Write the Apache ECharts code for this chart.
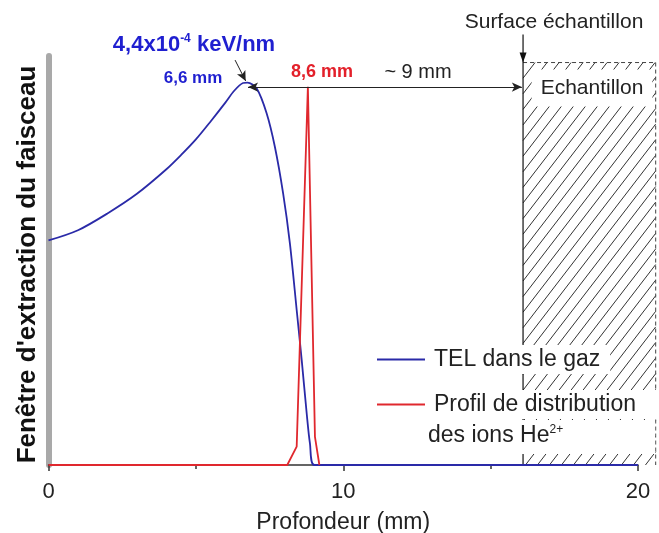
<!DOCTYPE html>
<html>
<head>
<meta charset="utf-8">
<script src="https://cdn.jsdelivr.net/npm/echarts@6/dist/echarts.min.js"></script>
<style>
  html, body { margin: 0; padding: 0; background: #fff; }
  #main { width: 659px; height: 533px; }
</style>
</head>
<body>
<div id="main"></div>
<script>
// TEL dans le gaz (profondeur en mm, valeur normalisee)
var depthTel = [0, 1, 2, 3, 4, 4.5, 5, 5.5, 6, 6.3, 6.6, 6.75, 7.06, 7.4, 7.68, 7.96, 8.19, 8.42, 8.59, 8.76, 8.87, 9.02, 20]
var valueTel = [54.9, 57.4, 61.5, 66.3, 72.3, 75.8, 79.6, 84.0, 88.6, 91.5, 93.4, 93.5, 92.1, 86.0, 77.8, 66.4, 54.2, 37.9, 25.7, 12.6, 5.3, 0, 0]
// profil de distribution des ions He2+
var depthIons = [0, 8.1, 8.42, 8.8, 9.04, 9.19]
var valueIons = [0, 0, 4.5, 92.5, 6.9, 0]
// echantillon : debut, fin, hauteur
var sampleStart = 16.1
var sampleEnd = 20.6
var sampleTop = 98.4
var xTicks = [0, 10, 20]

function zip (xs, ys) {
  return xs.map(function (x, i) { return [x, ys[i]] })
}

var chart = echarts.init(document.getElementById('main'))
var font = 'Liberation Sans, Arial, sans-serif'

function renderSample (params, api) {
  var tl = api.coord([api.value(0), api.value(2)])
  var br = api.coord([api.value(1), 0])
  var L = tl[0], T = tl[1], R = br[0], B = br[1]
  var children = []
  var step = 12, slope = 1.3
  var run = (B - T) / slope
  for (var c = L - run; c < R; c += step) {
    var x0 = c, y0 = B
    if (x0 < L) { y0 = B - (L - c) * slope; x0 = L }
    var x1 = c + run, y1 = T
    if (x1 > R) { y1 = B - (R - c) * slope; x1 = R }
    if (y0 > y1) {
      children.push({type: 'line', shape: {x1: x0, y1: y0, x2: x1, y2: y1}, style: {stroke: '#333', lineWidth: 1}})
    }
  }
  children.push({type: 'line', shape: {x1: L, y1: T, x2: R, y2: T}, style: {stroke: '#444', lineWidth: 1, lineDash: [4, 3]}})
  children.push({type: 'line', shape: {x1: R, y1: T, x2: R, y2: B}, style: {stroke: '#444', lineWidth: 1, lineDash: [4, 3]}})
  children.push({type: 'line', shape: {x1: L, y1: T - 28, x2: L, y2: B}, style: {stroke: '#111', lineWidth: 1.2}})
  children.push({type: 'polygon', shape: {points: [[L - 3.5, T - 10], [L + 3.5, T - 10], [L, T]]}, style: {fill: '#111'}})
  return {type: 'group', children: children}
}

var option = {
  animation: false,
  backgroundColor: '#fff',
  grid: {left: 48.5, right: 21, top: 56, bottom: 68, outerBoundsMode: 'none'},
  xAxis: {
    type: 'value',
    min: xTicks[0],
    max: xTicks[xTicks.length - 1],
    interval: 10,
    name: 'Profondeur (mm)',
    nameLocation: 'middle',
    nameGap: 46,
    nameTextStyle: {fontFamily: font, fontSize: 23, color: '#222'},
    axisLine: {lineStyle: {color: '#333', width: 1.5}},
    axisTick: {length: 6, lineStyle: {color: '#333', width: 1.5}},
    minorTick: {show: true, splitNumber: 2, length: 4, lineStyle: {color: '#333', width: 1.5}},
    axisLabel: {fontFamily: font, fontSize: 22, color: '#222', margin: 16},
    splitLine: {show: false}
  },
  yAxis: {
    type: 'value',
    min: 0,
    max: 100,
    name: "Fenêtre d'extraction du faisceau",
    nameLocation: 'middle',
    nameGap: 8,
    nameTextStyle: {fontFamily: font, fontSize: 26, fontWeight: 'bold', color: '#111', padding: [0, 8, 0, 0]},
    axisLine: {show: true, onZero: false, lineStyle: {color: '#a9a9a9', width: 6}},
    axisTick: {show: false},
    axisLabel: {show: false},
    splitLine: {show: false}
  },
  legend: {
    orient: 'vertical',
    left: 372,
    top: 340,
    itemWidth: 48,
    itemHeight: 2,
    itemGap: 16,
    icon: 'rect',
    textStyle: {fontFamily: font, fontSize: 23, color: '#222', backgroundColor: '#fff', padding: [3, 10, 3, 4]},
    data: [
      {name: 'TEL dans le gaz'},
      {name: 'Profil de distribution', textStyle: {padding: [3, 24, 3, 4]}}
    ]
  },
  series: [
    {
      type: 'custom',
      clip: false,
      z: 1,
      silent: true,
      renderItem: renderSample,
      encode: {x: [0, 1], y: 2},
      data: [[sampleStart, sampleEnd, sampleTop]]
    },
    {
      name: 'TEL dans le gaz',
      type: 'line',
      symbol: 'none',
      smooth: 0.3,
      color: '#2a2aa8',
      lineStyle: {width: 1.8},
      data: zip(depthTel, valueTel),
      markLine: {
        silent: true,
        label: {show: false},
        lineStyle: {color: '#222', width: 1, type: 'solid'},
        symbolSize: [7, 10],
        data: [
          [{coord: [6.77, 92.4], symbol: 'arrow'}, {coord: [16.06, 92.4], symbol: 'arrow'}],
          [{coord: [6.33, 99.0], symbol: 'none'}, {coord: [6.69, 93.9], symbol: 'arrow'}]
        ]
      }
    },
    {
      name: 'Profil de distribution',
      type: 'line',
      symbol: 'none',
      color: '#e0282e',
      lineStyle: {width: 1.8},
      data: zip(depthIons, valueIons)
    }
  ],
  graphic: [
    {
      type: 'text', x: 194, y: 45, z: 100,
      style: {
        text: '{a|4,4x10}{s|-4}{a| keV/nm}',
        align: 'center', verticalAlign: 'middle', fill: '#1f1fd0',
        rich: {
          a: {fontFamily: font, fontSize: 22, fontWeight: 'bold', fill: '#1f1fd0'},
          s: {fontFamily: font, fontSize: 12, fontWeight: 'bold', fill: '#1f1fd0', verticalAlign: 'top', padding: [0, 0, 12, 0]}
        }
      }
    },
    {type: 'text', x: 193, y: 78, z: 100, style: {text: '6,6 mm', font: 'bold 17px ' + font, fill: '#1f1fd0', align: 'center', verticalAlign: 'middle'}},
    {type: 'text', x: 322, y: 72, z: 100, style: {text: '8,6 mm', font: 'bold 18px ' + font, fill: '#e3202a', align: 'center', verticalAlign: 'middle'}},
    {type: 'text', x: 418, y: 72, z: 100, style: {text: '~ 9 mm', font: '20px ' + font, fill: '#222', align: 'center', verticalAlign: 'middle'}},
    {type: 'text', x: 554, y: 22, z: 100, style: {text: 'Surface échantillon', font: '21px ' + font, fill: '#222', align: 'center', verticalAlign: 'middle'}},
    {
      type: 'text', x: 592, y: 88, z: 100,
      style: {text: 'Echantillon', font: '21px ' + font, fill: '#222', align: 'center', verticalAlign: 'middle', backgroundColor: '#fff', padding: [8, 9, 8, 9]}
    },
    {
      type: 'text', x: 424, y: 437, z: 100,
      style: {
        text: '{a|des ions He}{s|2+}',
        align: 'left', verticalAlign: 'middle', backgroundColor: '#fff', padding: [4, 92, 6, 4],
        rich: {
          a: {fontFamily: font, fontSize: 23, fill: '#222'},
          s: {fontFamily: font, fontSize: 12, fill: '#222', verticalAlign: 'top', padding: [0, 0, 12, 0]}
        }
      }
    }
  ]
}

chart.setOption(option)
</script>
</body>
</html>
